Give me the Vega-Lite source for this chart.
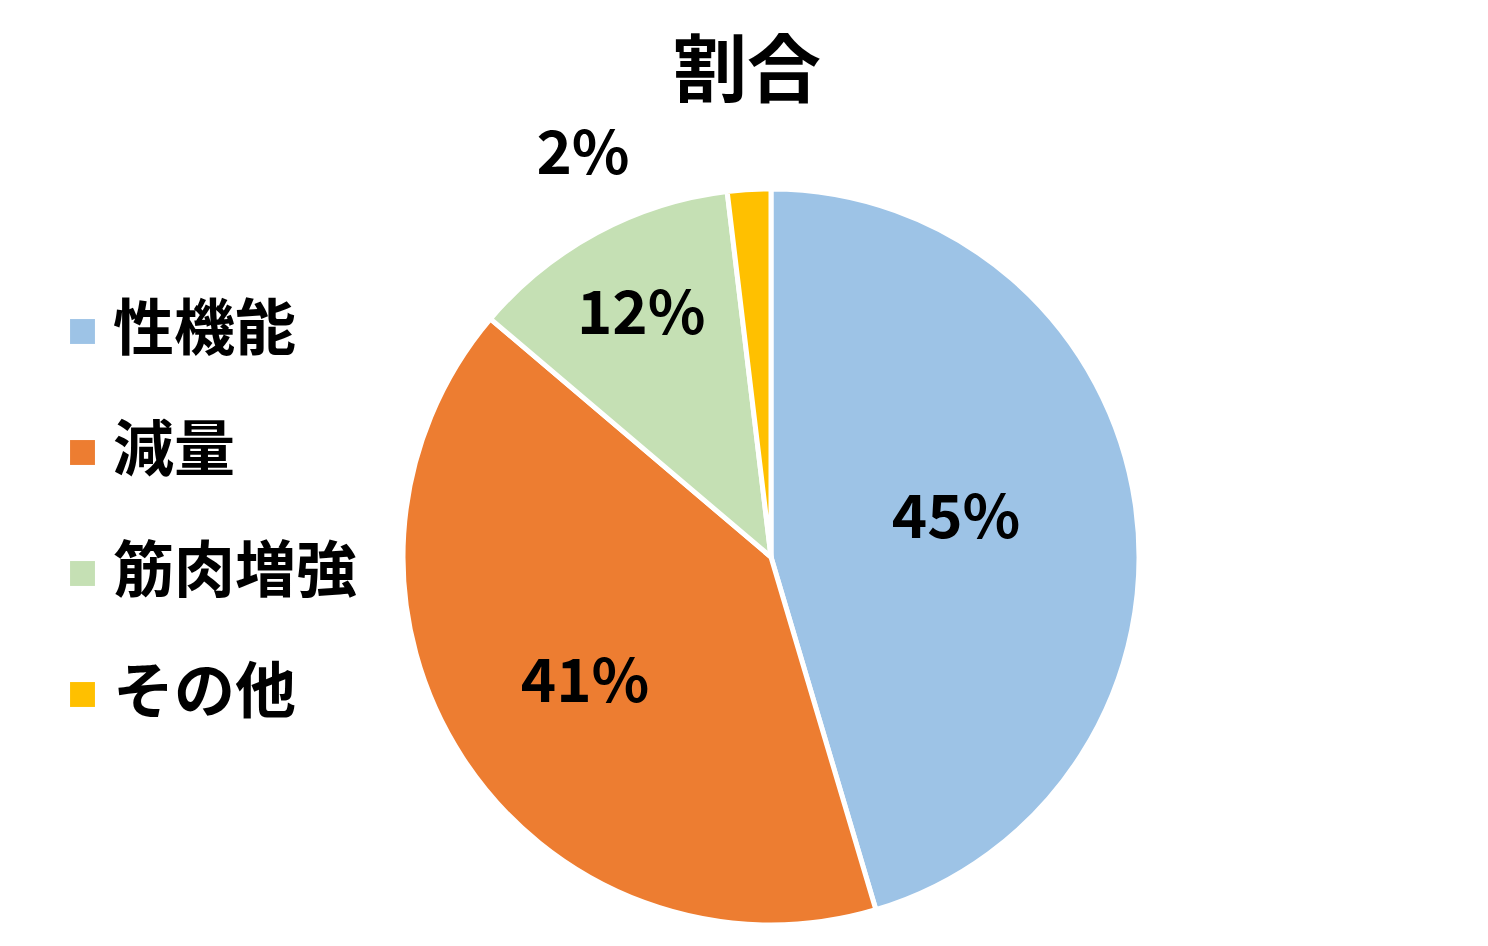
{
  "$schema": "https://vega.github.io/schema/vega-lite/v6.json",
  "autosize": {"type": "none"},
  "width": 1434,
  "height": 778,
  "padding": {"left": 54, "top": 168, "right": 0, "bottom": 0},
  "background": "white",
  "title": {
    "text": "割合",
    "font": "Noto Sans CJK JP",
    "fontSize": 74,
    "fontWeight": "bold",
    "color": "#000000",
    "anchor": "middle",
    "dx": -24,
    "offset": 14
  },
  "data": {
    "values": [
      {"category": "性機能", "value": 0.454},
      {"category": "減量", "value": 0.408},
      {"category": "筋肉増強", "value": 0.119},
      {"category": "その他", "value": 0.019}
    ]
  },
  "encoding": {
    "theta": {"field": "value", "type": "quantitative", "stack": true},
    "order": {"field": "value", "sort": "descending"},
    "color": {
      "field": "category",
      "type": "nominal",
      "scale": {
        "domain": ["性機能", "減量", "筋肉増強", "その他"],
        "range": ["#9DC3E6", "#ED7D31", "#C5E0B4", "#FFC000"]
      },
      "legend": {
        "title": null,
        "orient": "none",
        "legendX": -2,
        "legendY": 133,
        "symbolType": "square",
        "symbolSize": 620,
        "symbolStrokeWidth": 0,
        "labelFont": "Noto Sans CJK JP",
        "labelFontSize": 61,
        "labelFontWeight": "bold",
        "labelColor": "#000000",
        "labelOffset": 0,
        "rowPadding": 59,
        "labelLimit": 400
      }
    }
  },
  "layer": [
    {
      "mark": {"type": "arc", "outerRadius": 368, "stroke": "white", "strokeWidth": 5}
    },
    {
      "mark": {
        "type": "text",
        "radius": 187,
        "dy": -10,
        "font": "Noto Sans CJK JP",
        "fontSize": 60,
        "fontWeight": "bold",
        "color": "#000000"
      },
      "encoding": {
        "text": {
          "condition": {"test": "datum.category == '性機能'", "field": "value", "type": "quantitative", "format": ".0%"},
          "value": ""
        },
        "color": {"value": "#000000"}
      }
    },
    {
      "mark": {
        "type": "text",
        "radius": 222,
        "dy": 6,
        "font": "Noto Sans CJK JP",
        "fontSize": 60,
        "fontWeight": "bold",
        "color": "#000000"
      },
      "encoding": {
        "text": {
          "condition": {"test": "datum.category == '減量'", "field": "value", "type": "quantitative", "format": ".0%"},
          "value": ""
        },
        "color": {"value": "#000000"}
      }
    },
    {
      "mark": {
        "type": "text",
        "radius": 274,
        "font": "Noto Sans CJK JP",
        "fontSize": 60,
        "fontWeight": "bold",
        "color": "#000000"
      },
      "encoding": {
        "text": {
          "condition": {"test": "datum.category == '筋肉増強'", "field": "value", "type": "quantitative", "format": ".0%"},
          "value": ""
        },
        "color": {"value": "#000000"}
      }
    },
    {
      "mark": {
        "type": "text",
        "radius": 402,
        "dx": -164,
        "font": "Noto Sans CJK JP",
        "fontSize": 60,
        "fontWeight": "bold",
        "color": "#000000"
      },
      "encoding": {
        "text": {
          "condition": {"test": "datum.category == 'その他'", "field": "value", "type": "quantitative", "format": ".0%"},
          "value": ""
        },
        "color": {"value": "#000000"}
      }
    }
  ],
  "config": {
    "view": {"stroke": null}
  }
}
